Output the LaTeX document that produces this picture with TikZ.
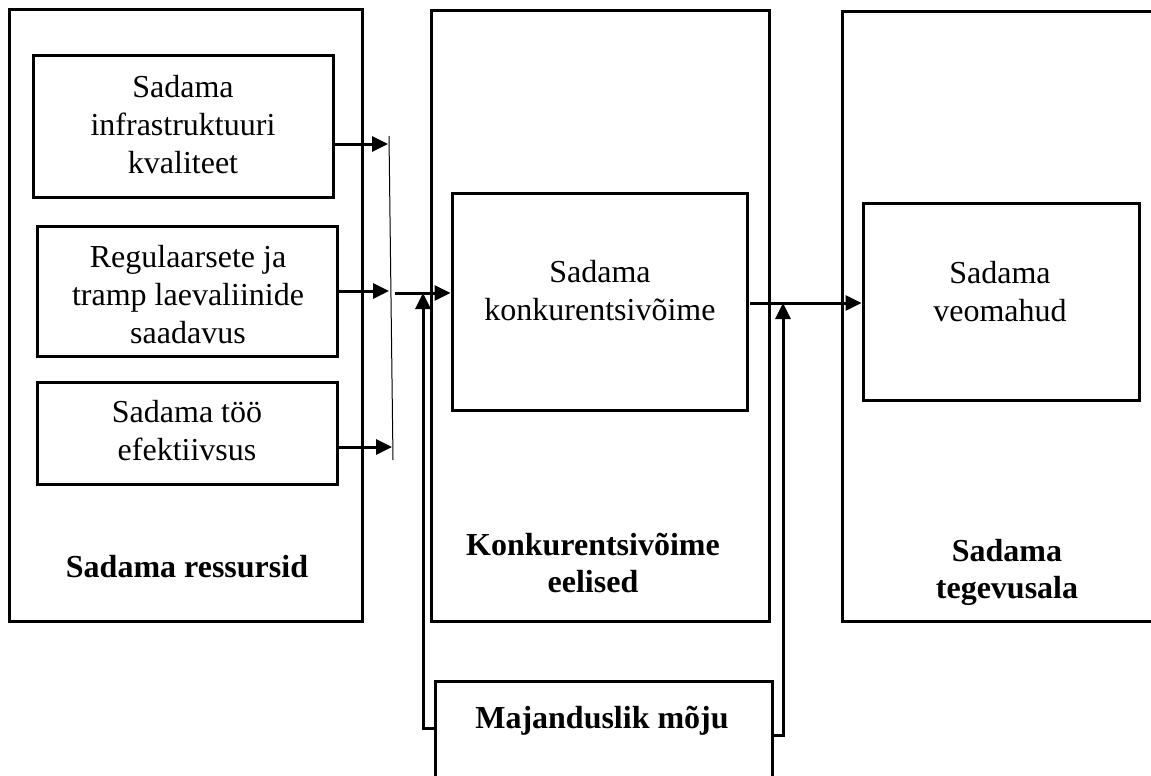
\documentclass[tikz,border=0pt]{standalone}
\usepackage{fontspec}
\setmainfont{Liberation Serif}
\usetikzlibrary{positioning, arrows.meta}

\begin{document}
\begin{tikzpicture}[x=0.5pt, y=-0.5pt, line width=1.5pt,
    box/.style = {draw, inner sep=0pt},
    txt/.style = {align=center, anchor=base, inner sep=0pt, font=\fontsize{16}{19}\selectfont},
    lbl/.style = {align=center, anchor=base, inner sep=0pt, font=\fontsize{16}{18.5}\selectfont\bfseries},
    arr/.style = {-{Triangle[length=8pt, width=7.5pt]}}]
\clip (0,0) rectangle (1151,776);
% outer boxes
\node[box, minimum width=176.5pt, minimum height=306pt] (res) at (185.5,315) {};
\node[box, minimum width=169pt, minimum height=305.5pt] (eel) at (600,315.5) {};
\node[box, minimum width=161.5pt, minimum height=305pt] (teg) at (1003.5,316) {};
% inner boxes
\node[box, minimum width=150pt, minimum height=71pt] (infra) at (183,126) {};
\node[box, minimum width=150pt, minimum height=65pt] (regul) at (187,291) {};
\node[box, minimum width=150pt, minimum height=51pt] (too) at (187,433) {};
\node[box, minimum width=147.5pt, minimum height=108.5pt] (konk) at (599.5,301.5) {};
\node[box, minimum width=138pt, minimum height=98.5pt] (veo) at (1001,301.5) {};
\node[box, minimum width=168.5pt, minimum height=59.5pt] (moju) at (603.5,740.5) {};
% texts (base = last line)
\node[txt] (tInfra) at (183,173) {Sadama\\infrastruktuuri\\kvaliteet};
\node[txt] (tRegul) at (188,343) {Regulaarsete ja\\tramp laevaliinide\\saadavus};
\node[txt] (tToo) at (187,460) {Sadama töö\\efektiivsus};
\node[txt] (tKonk) at (600,320) {Sadama\\konkurentsivõime};
\node[txt] (tVeo) at (1000,321) {Sadama\\veomahud};
\node[lbl] (tRes) at (187,577) {Sadama ressursid};
\node[lbl] (tEel) at (593,592) {Konkurentsivõime\\eelised};
\node[lbl] (tTeg) at (1007,598) {Sadama\\tegevusala};
\node[lbl] (tMoju) at (602,728) {Majanduslik mõju};
% connectors
\coordinate (barTop) at (389,136);
\coordinate (barBot) at (393,460);
\coordinate (b1) at (388,144);
\coordinate (b2) at (389,291);
\coordinate (b3) at (392,447);
\coordinate (j1) at (395,293);
\coordinate (k1) at (750,303);
\coordinate (m1) at (423,728);
\coordinate (m2) at (783,735);
\draw[line width=0.5pt] (barTop) -- (barBot);
\draw[arr] (infra.east |- b1) -- (b1);
\draw[arr] (regul.east |- b2) -- (b2);
\draw[arr] (too.east |- b3) -- (b3);
\draw[arr] (j1) -- (konk.west |- j1);
\draw[arr] (k1) -- (veo.west |- k1);
\draw[arr] (moju.west |- m1) -- (m1) -- (m1 |- j1);
\draw[arr] (moju.east |- m2) -- (m2) -- (m2 |- k1);
\end{tikzpicture}
\end{document}
